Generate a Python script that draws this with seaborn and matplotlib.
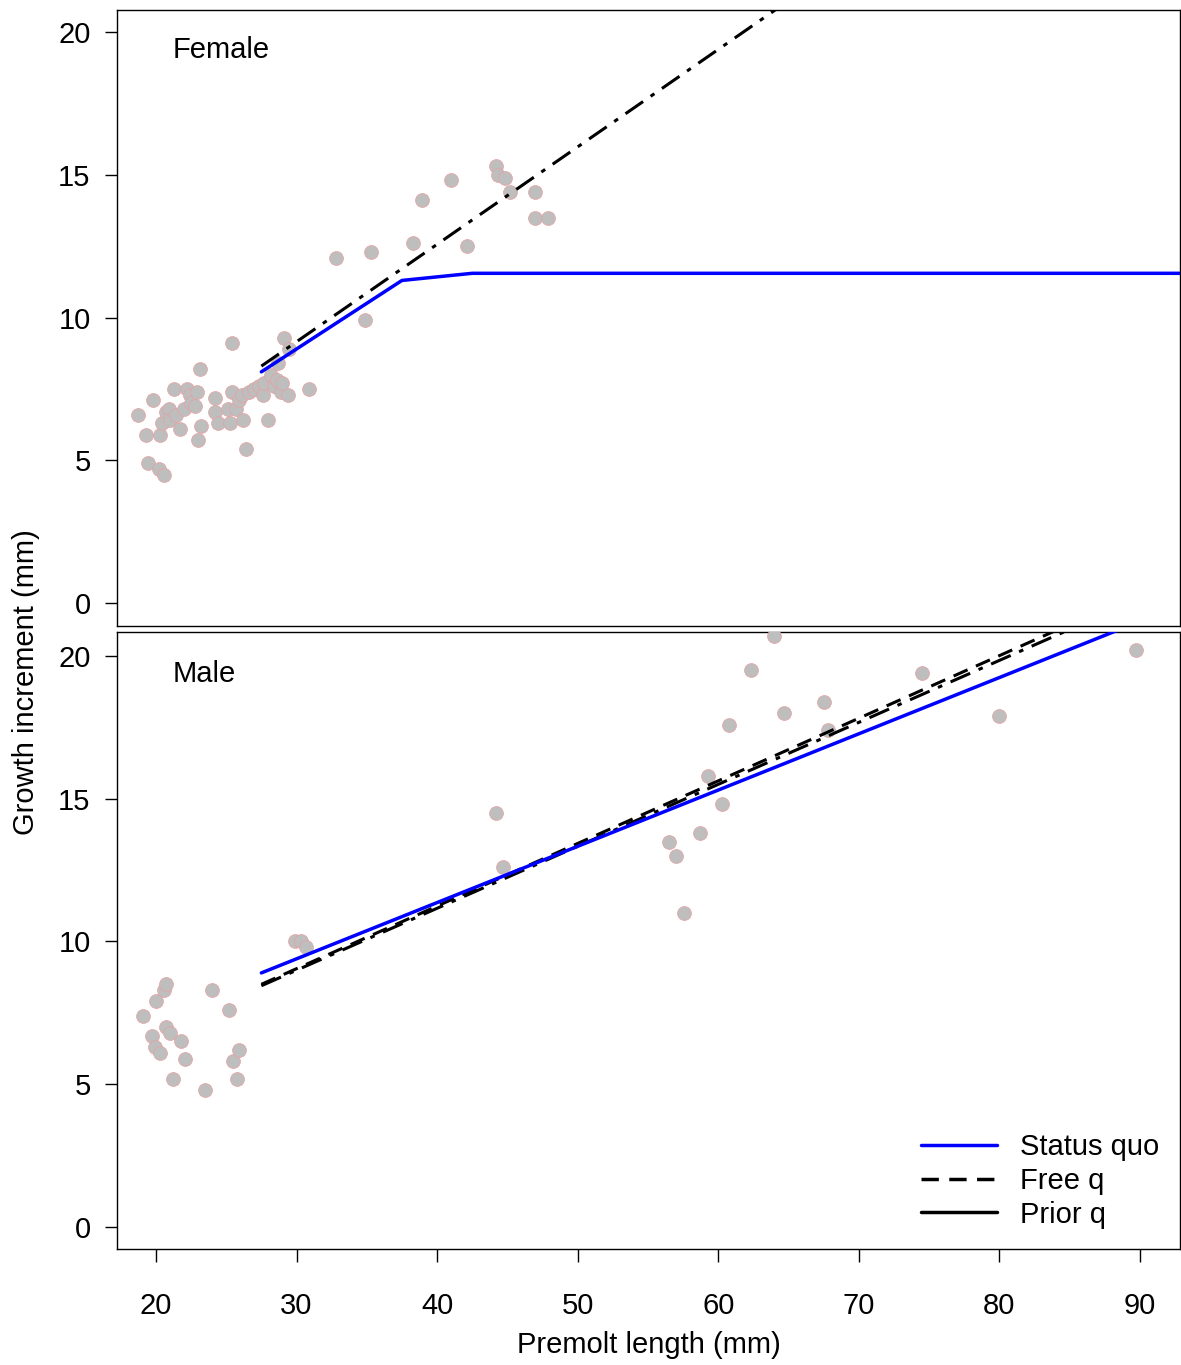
import numpy as np
import pandas as pd
import matplotlib
matplotlib.use('Agg')
import matplotlib.pyplot as plt
import seaborn as sns
from matplotlib.lines import Line2D

sns.set_style('ticks')
plt.rcParams['font.family'] = ['Liberation Sans', 'DejaVu Sans']
plt.rcParams['text.color'] = 'black'
plt.rcParams['axes.labelcolor'] = 'black'
plt.rcParams['xtick.color'] = 'black'
plt.rcParams['ytick.color'] = 'black'
plt.rcParams['axes.edgecolor'] = 'black'

fem_x = [18.7, 19.3, 19.4, 19.8, 20.2, 20.3, 20.4, 20.6, 20.7, 20.9, 21.0, 21.3, 21.4, 21.7, 22.0, 22.2,
         22.4, 22.5, 22.8, 22.9, 23.0, 23.1, 23.2, 24.2, 24.2, 24.4, 25.1, 25.3, 25.4, 25.4, 25.7, 25.9,
         26.1, 26.2, 26.4, 26.6, 27.0, 27.3, 27.6, 27.7, 28.0, 28.2, 28.4, 28.6, 28.7, 28.9, 29.0, 29.1,
         29.4, 29.5, 30.9, 32.8, 34.9, 35.3, 38.3, 38.9, 41.0, 42.1, 44.2, 44.3, 44.8, 45.2, 47.0, 47.0, 47.9]
fem_y = [6.6, 5.9, 4.9, 7.1, 4.7, 5.9, 6.3, 4.5, 6.7, 6.8, 6.4, 7.5, 6.6, 6.1, 6.8, 7.5,
         7.3, 7.0, 6.9, 7.4, 5.7, 8.2, 6.2, 7.2, 6.7, 6.3, 6.8, 6.3, 9.1, 7.4, 6.8, 7.1,
         7.3, 6.4, 5.4, 7.4, 7.5, 7.6, 7.3, 7.7, 6.4, 8.0, 7.6, 7.8, 8.4, 7.4, 7.7, 9.3,
         7.3, 8.9, 7.5, 12.1, 9.9, 12.3, 12.6, 14.1, 14.8, 12.5, 15.3, 15.0, 14.9, 14.4, 13.5, 14.4, 13.5]
male_x = [19.1, 19.7, 19.9, 20.0, 20.3, 20.6, 20.7, 20.7, 21.0, 21.2, 21.8, 22.1, 23.5, 24.0, 25.2, 25.5,
          25.8, 25.9, 29.9, 30.3, 30.7, 44.2, 44.7, 56.5, 57.0, 57.6, 58.7, 59.3, 60.3, 60.8, 62.3, 64.0,
          64.7, 67.5, 67.8, 74.5, 80.0, 89.7]
male_y = [7.4, 6.7, 6.3, 7.9, 6.1, 8.3, 8.5, 7.0, 6.8, 5.2, 6.5, 5.9, 4.8, 8.3, 7.6, 5.8,
          5.2, 6.2, 10.0, 10.0, 9.8, 14.5, 12.6, 13.5, 13.0, 11.0, 13.8, 15.8, 14.8, 17.6, 19.5, 20.7,
          18.0, 18.4, 17.4, 19.4, 17.9, 20.2]

# fitted curves
fem_sq_x = [27.5, 37.5, 42.5, 95]
fem_sq_y = [8.1, 11.3, 11.55, 11.55]
fem_free_x = [27.5, 70]
fem_free_y = [8.3, 22.8]
fem_prior_x = [27.5, 70]
fem_prior_y = [8.3, 22.8]
male_sq_x = [27.5, 95]
male_sq_y = [8.9, 22.2]
male_free_x = [27.5, 95]
male_free_y = [8.5, 23.3]
male_prior_x = [27.5, 95]
male_prior_y = [8.45, 23.1]

fig = plt.figure(figsize=(11.81, 13.65), dpi=100)
ax1 = fig.add_axes([117/1181, 1-626/1365, 1063/1181, 616/1365])
ax2 = fig.add_axes([117/1181, 1-1249/1365, 1063/1181, 617/1365])

panels = [(ax1, fem_x, fem_y, fem_sq_x, fem_sq_y, fem_free_x, fem_free_y, fem_prior_x, fem_prior_y, 'Female', (-0.8, 20.77)),
          (ax2, male_x, male_y, male_sq_x, male_sq_y, male_free_x, male_free_y, male_prior_x, male_prior_y, 'Male', (-0.77, 20.84))]
for ax, px, py, sx, sy, fx, fy, qx, qy, lab, yl in panels:
    sns.scatterplot(x=px, y=py, ax=ax, color='#bebebe', edgecolor='#e8a0a0', linewidth=0.5, s=100, zorder=3)
    if lab == 'Male':
        sns.lineplot(x=fx, y=fy, ax=ax, color='black', lw=2.2, ls=(0, (5, 3)), zorder=4)
    sns.lineplot(x=qx, y=qy, ax=ax, color='black', lw=2.2, ls=(0, (7, 3, 1.5, 3)), zorder=4)
    sns.lineplot(x=sx, y=sy, ax=ax, color='blue', lw=2.5, zorder=5)
    ax.set_xlim(17.23, 92.85)
    ax.set_ylim(*yl)
    ax.set_yticks([0, 5, 10, 15, 20])
    ax.set_xticks(range(20, 100, 10))
    ax.tick_params(labelsize=21, length=9, width=1, pad=10)
    ax.text(21.2, 19.1, lab, fontsize=21)
    for s in ax.spines.values():
        s.set_visible(True)
        s.set_linewidth(1)
ax1.tick_params(labelbottom=False, bottom=False)
ax2.tick_params(axis='x', pad=22)
ax2.set_xlabel('Premolt length (mm)', fontsize=21, labelpad=8)
fig.text(0.022, 0.5, 'Growth increment (mm)', rotation=90, va='center', ha='center', fontsize=21)

handles = [Line2D([], [], color='blue', lw=2.5),
           Line2D([], [], color='black', lw=2.5, ls=(0, (5, 3))),
           Line2D([], [], color='black', lw=2.5)]
ax2.legend(handles, ['Status quo', 'Free q', 'Prior q'], loc='lower right', frameon=False,
           fontsize=21, handlelength=2.6, borderaxespad=0.3, labelspacing=0.2)

fig.savefig('out.png', dpi=100)
